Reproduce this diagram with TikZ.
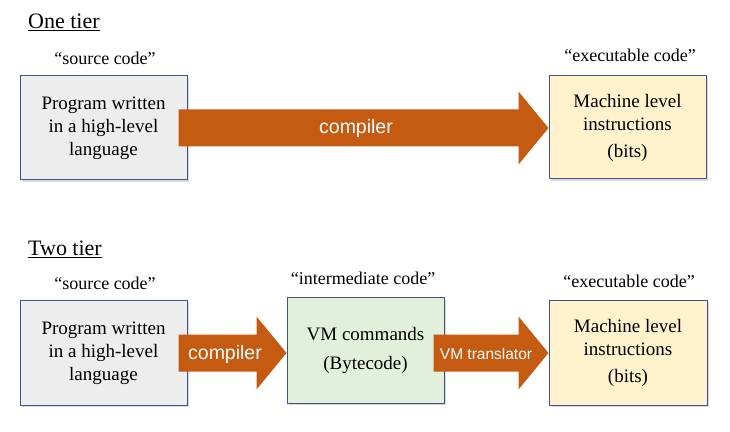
\documentclass[tikz,border=0pt]{standalone}
\usepackage{fontspec}
\setmainfont{Liberation Serif}
\setsansfont{Liberation Sans}
\usetikzlibrary{calc,shadows}

\definecolor{boxline}{RGB}{66,82,140}
\definecolor{srcfill}{RGB}{237,237,237}
\definecolor{vmfill}{RGB}{226,239,218}
\definecolor{binfill}{RGB}{255,242,204}
\definecolor{arrowfill}{RGB}{197,90,17}

\tikzset{
    codebox/.style={draw=boxline, line width=1pt, inner sep=0pt, align=center,
        drop shadow={shadow xshift=1.5pt, shadow yshift=-2pt, opacity=.3},
        font=\rmfamily\fontsize{19}{23}\selectfont},
    codelabel/.style={anchor=base, inner sep=0pt, font=\rmfamily\fontsize{18}{20}\selectfont},
    tiertitle/.style={anchor=base west, inner sep=0pt, font=\rmfamily\fontsize{22}{24}\selectfont},
    arrowlabel/.style={text=white, inner sep=0pt, font=\sffamily\fontsize{19.5}{22}\selectfont}
}

% block arrow from #1 (tail) to #2 (tip)
\newcommand{\blockarrow}[2]{%
    \fill[arrowfill] ($(#1)+(0,18.5)$) -- ($(#2)+(-30,18.5)$) -- ($(#2)+(-30,36.5)$) -- (#2)
        -- ($(#2)+(-30,-36.5)$) -- ($(#2)+(-30,-18.5)$) -- ($(#1)+(0,-18.5)$) -- cycle;}

\begin{document}
\begin{tikzpicture}[x=1pt, y=1pt]
    \useasboundingbox (0, 0) rectangle (730, 431);

    % one tier
    \node[tiertitle] (one) at (28, 402) {\underline{One tier}};
    \node[codebox, fill=srcfill, minimum width=167, minimum height=104] (p1) at (103.5, 303)
        {Program written\\in a high-level\\language};
    \node[codebox, fill=binfill, minimum width=157, minimum height=103] (m1) at (627.5, 303.5)
        {Machine level\\instructions\\[4pt](bits)};
    \node[codelabel] (s1) at (105, 366) {“source code”};
    \node[codelabel] (e1) at (630, 369) {“executable code”};

    \coordinate (a1s) at ([xshift=-9pt]p1.east);
    \coordinate (a1e) at (m1.west |- p1.east);
    \blockarrow{a1s}{a1e}
    \node[arrowlabel] (c1) at (356, 303) {compiler};

    % two tier
    \node[tiertitle] (two) at (28, 175) {\underline{Two tier}};
    \node[codebox, fill=srcfill, minimum width=167, minimum height=104] (p2) at (103.5, 78)
        {Program written\\in a high-level\\language};
    \node[codebox, fill=vmfill, minimum width=157, minimum height=105] (vm) at (365.5, 80.5)
        {VM commands\\[6pt](Bytecode)};
    \node[codebox, fill=binfill, minimum width=158, minimum height=104] (m2) at (628, 78)
        {Machine level\\instructions\\[4pt](bits)};
    \node[codelabel] (s2) at (105, 141) {“source code”};
    \node[codelabel] (i2) at (363, 146) {“intermediate code”};
    \node[codelabel] (e2) at (629, 143) {“executable code”};

    \coordinate (a2s) at ([xshift=-9pt]p2.east);
    \coordinate (a2e) at (vm.west |- p2.east);
    \blockarrow{a2s}{a2e}
    \coordinate (a3s) at ([xshift=-11pt]vm.east |- p2.east);
    \coordinate (a3e) at (m2.west |- p2.east);
    \blockarrow{a3s}{a3e}
    \node[arrowlabel] (c2) at (225, 77) {compiler};
    \node[arrowlabel, font=\sffamily\fontsize{15.5}{18}\selectfont] (t2) at (486, 77) {VM translator};
\end{tikzpicture}
\end{document}
